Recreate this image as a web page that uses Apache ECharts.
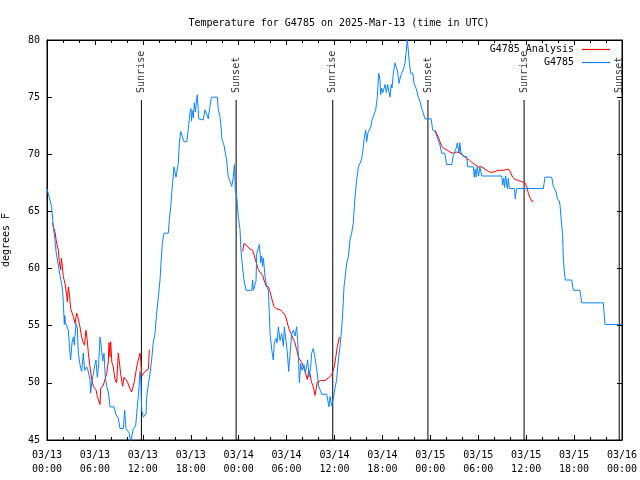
<!DOCTYPE html>
<html>
<head>
<meta charset="utf-8">
<script src="https://cdn.jsdelivr.net/npm/echarts@6/dist/echarts.min.js"></script>
<style>html,body{margin:0;padding:0;background:#fff}#c{width:640px;height:480px}</style>
</head>
<body>
<div id="c"></div>
<script>
// x values are hours since 2025-03-13 00:00 UTC
const xTickLabels = ['03/13\n00:00','03/13\n06:00','03/13\n12:00','03/13\n18:00','03/14\n00:00','03/14\n06:00','03/14\n12:00','03/14\n18:00','03/15\n00:00','03/15\n06:00','03/15\n12:00','03/15\n18:00','03/16\n00:00'];

const obsHours = [0.0,0.58,0.79,1.0,1.13,1.25,1.4,1.63,1.84,1.96,2.04,2.17,2.23,2.3,2.67,2.88,2.96,3.13,3.3,3.42,3.63,3.8,3.92,4.13,4.34,4.55,4.72,4.97,5.1,5.38,5.47,5.6,5.68,6.0,6.13,6.3,6.47,6.64,6.76,6.97,7.14,7.3,7.47,7.68,7.89,8.39,8.64,8.93,9.14,9.55,9.73,9.88,10.1,10.31,10.48,10.7,10.81,11.1,11.23,11.43,11.52,11.65,11.75,11.86,12.06,12.23,12.4,12.5,12.69,12.9,13.1,13.3,13.52,13.73,13.94,14.15,14.28,14.44,14.65,15.19,15.32,15.49,15.61,15.74,15.9,16.05,16.15,16.35,16.44,16.57,16.74,16.95,17.15,17.5,17.61,17.74,17.9,18.03,18.1,18.2,18.33,18.45,18.58,18.74,18.82,19.0,19.57,19.78,19.95,20.2,20.3,20.41,20.58,21.33,21.45,21.66,21.79,21.91,22.16,22.33,22.5,22.58,22.71,22.95,23.13,23.33,23.46,23.58,23.75,23.96,24.17,24.29,24.46,24.67,24.92,25.63,25.75,25.85,26.1,26.17,26.26,26.47,26.6,26.76,26.88,27.0,27.1,27.3,27.51,27.72,27.84,27.93,28.14,28.34,28.46,28.68,28.8,28.97,29.18,29.39,29.6,29.72,29.9,30.1,30.26,30.5,30.64,30.85,31.05,31.15,31.26,31.38,31.51,31.6,31.76,31.93,32.18,32.35,32.5,32.64,32.81,33.02,33.14,33.35,33.56,33.85,34.02,34.19,34.4,35.02,35.15,35.31,35.44,35.65,35.85,36.06,36.27,36.48,36.69,36.9,37.03,37.19,37.36,37.53,37.73,37.94,38.15,38.36,38.48,38.61,38.78,38.99,39.19,39.41,39.61,39.74,39.91,40.03,40.2,40.35,40.53,40.7,40.95,41.16,41.36,41.53,41.7,41.78,41.9,42.05,42.33,42.5,42.65,42.95,43.1,43.2,43.37,43.58,43.75,43.91,44.08,44.2,44.41,44.62,44.83,44.95,45.12,45.24,45.37,45.54,45.8,45.96,46.2,46.5,46.71,46.92,47.12,47.33,48.1,48.3,48.6,48.85,49.0,49.21,49.42,49.8,50.05,50.68,50.88,51.22,51.38,51.55,51.6,51.7,51.82,51.96,52.13,52.55,52.68,53.38,53.5,53.62,53.75,53.87,54.05,54.2,54.43,56.94,57.06,57.2,57.3,57.43,57.64,57.76,57.9,58.51,58.64,58.8,62.15,62.36,63.2,63.4,63.74,63.91,64.15,64.25,64.36,64.57,64.65,64.78,64.9,65.7,65.9,66.74,66.95,69.66,69.87,72.0];
const obsTemps = [67.0,65.4,63.7,62.5,61.5,61.0,61.0,59.4,58.6,58.0,57.1,55.1,55.9,55.3,54.6,52.6,52.0,53.5,54.0,53.3,55.2,54.8,52.6,51.6,51.0,52.6,51.1,51.4,51.2,50.3,49.1,50.0,50.0,51.6,52.0,50.5,51.6,54.0,53.4,51.9,52.6,50.5,49.7,49.2,47.9,47.9,47.2,46.9,46.0,46.0,47.6,46.0,46.0,45.6,44.8,44.8,46.0,46.2,47.3,48.8,49.7,51.0,50.3,47.6,47.0,47.0,47.3,48.9,49.0,50.8,52.0,53.5,54.3,56.1,57.5,59.0,60.5,62.2,63.1,63.1,64.3,65.4,66.6,67.5,68.9,69.0,68.0,68.0,69.2,71.0,72.0,72.0,71.1,71.1,71.7,72.6,73.6,74.0,72.9,73.8,73.2,74.5,73.7,74.9,75.2,73.1,73.0,73.9,74.0,73.1,73.7,74.2,75.0,75.0,73.9,73.3,72.4,71.3,70.8,70.1,69.5,68.8,68.0,68.0,67.2,68.0,69.1,66.9,66.3,64.5,63.4,61.6,60.3,59.0,58.1,58.1,59.0,58.1,58.1,58.9,61.3,61.8,62.1,60.5,61.1,60.2,60.9,59.3,58.4,58.1,56.1,54.3,52.9,52.0,53.5,53.9,53.5,54.9,53.7,54.3,53.2,54.9,54.9,52.6,51.0,51.0,54.3,54.6,54.1,54.0,54.9,53.8,51.7,50.0,51.7,51.1,51.6,50.9,51.4,52.0,50.5,51.4,52.6,53.0,52.2,50.8,49.7,49.4,49.0,49.0,48.5,47.9,48.8,48.0,48.6,49.5,50.3,52.0,53.2,54.8,56.2,58.4,59.4,60.5,61.0,62.5,63.1,64.0,65.4,66.6,67.8,68.9,69.2,69.6,70.7,71.5,72.1,71.1,71.9,72.1,72.4,73.0,73.1,73.9,75.0,77.1,76.5,75.2,75.8,75.4,76.1,75.4,76.1,75.0,76.1,75.8,77.1,78.0,78.0,77.2,76.2,76.6,77.1,77.4,78.0,78.8,80.0,79.1,78.0,77.1,77.1,76.2,75.8,75.0,74.6,74.0,73.6,73.1,73.1,72.1,72.0,71.5,71.5,70.8,70.1,70.1,69.1,69.1,69.9,70.5,71.0,71.0,70.1,71.0,70.2,70.1,69.8,69.8,68.9,68.9,68.0,68.7,68.0,68.9,68.1,68.9,68.1,68.1,67.3,67.9,67.1,68.1,67.0,67.9,67.0,67.0,66.1,67.0,67.0,68.0,68.0,67.2,66.7,66.1,65.9,65.5,64.5,62.9,61.0,59.7,59.0,59.0,58.1,58.1,57.0,57.0,55.1,55.1];

const anaHours = [0.66,0.72,1.0,1.21,1.42,1.54,1.71,1.8,1.92,2.04,2.25,2.46,2.55,2.67,2.8,2.96,3.3,3.51,3.71,3.85,4.13,4.34,4.55,4.7,4.88,5.0,5.18,5.38,5.59,5.8,6.13,6.3,6.64,6.72,7.05,7.26,7.47,7.68,7.76,7.88,7.97,8.12,8.3,8.51,8.72,8.93,9.05,9.22,9.47,9.64,9.8,10.06,10.39,10.6,10.81,10.94,11.23,11.43,11.65,11.75,11.86,12.27,12.69,12.82,
  18.0,
  24.5,24.67,25.0,25.42,25.76,25.92,26.17,26.46,26.67,27.01,27.17,27.42,27.72,27.92,28.13,28.42,28.68,29.18,29.51,29.84,30.01,30.22,30.43,30.64,30.84,31.05,31.26,31.47,31.68,31.89,32.1,32.3,32.43,32.6,32.77,32.93,33.1,33.27,33.43,33.56,33.77,33.85,34.27,34.81,35.02,35.35,35.65,35.85,35.98,36.19,36.36,36.61,
  42.0,
  48.6,49.0,49.21,49.42,49.71,50.04,50.46,50.88,51.3,51.72,52.13,52.55,52.88,53.18,53.59,54.01,54.43,54.85,55.26,55.68,56.1,56.51,57.14,57.77,57.98,58.31,58.6,59.02,59.44,59.85,60.06,60.27,60.48,60.69,60.94];
const anaTemps = [64.0,64.1,63.2,62.2,61.6,60.6,59.9,60.9,60.2,59.3,58.7,57.7,57.1,58.4,57.8,56.5,55.8,55.2,56.1,55.8,54.9,54.0,53.5,53.3,54.6,54.0,52.6,51.4,50.3,49.7,49.4,48.8,48.1,49.5,49.8,50.3,50.8,51.9,53.5,52.3,53.6,51.8,51.4,50.3,50.0,52.6,51.9,50.8,49.7,50.5,50.6,50.1,49.5,49.2,49.2,50.1,51.4,52.0,52.6,51.9,50.6,51.0,51.2,52.9,
  null,
  61.5,62.2,62.0,61.7,61.6,61.2,60.6,59.9,59.7,59.4,59.0,58.5,58.4,58.0,57.4,56.7,56.5,56.4,56.2,55.9,55.5,54.9,54.5,54.2,53.8,53.5,52.9,52.3,52.0,51.8,51.4,51.0,50.7,50.3,51.1,50.8,50.1,49.8,49.4,48.9,48.8,50.1,50.2,50.2,50.1,50.5,50.7,50.7,51.4,52.4,53.2,54.0,
  null,
  72.1,71.5,71.1,70.7,70.5,70.4,70.2,70.1,70.2,70.1,69.9,69.6,69.5,69.3,69.1,68.9,68.9,68.7,68.5,68.4,68.5,68.6,68.6,68.7,68.5,68.0,67.8,67.7,67.6,67.5,67.2,66.6,66.2,65.9,65.9];

const sunHours = [11.82, 23.68, 35.78, 47.7, 59.74, 71.65];
const sunNames = ['Sunrise', 'Sunset', 'Sunrise', 'Sunset', 'Sunrise', 'Sunset'];
const sunLineTop = 74.75;

const FONT = 'DejaVu Sans Mono';
const zip = (xs, ys) => xs.map((x, i) => [x, ys[i] === null ? '-' : ys[i]]);

const series = [];
series.push({
  name: 'G4785 Analysis', type: 'line', data: zip(anaHours, anaTemps),
  showSymbol: false, symbol: 'none', connectNulls: false,
  lineStyle: { color: '#ff0000', width: 1 }, itemStyle: { color: '#ff0000' }, z: 3
});
series.push({
  name: 'G4785', type: 'line', data: zip(obsHours, obsTemps),
  showSymbol: false, symbol: 'none',
  lineStyle: { color: '#0a84ff', width: 1 }, itemStyle: { color: '#0a84ff' }, z: 4
});
sunHours.forEach((h, i) => {
  series.push({
    type: 'line', data: [[h, 45], [h, sunLineTop]], showSymbol: false, symbol: 'none',
    lineStyle: { color: '#000', width: 1 }, z: 2, silent: true
  });
});
series.push({
  type: 'scatter', symbolSize: 0.1, itemStyle: { color: 'transparent' }, silent: true,
  data: sunHours.map((h, i) => ({ value: [h, sunLineTop], name: sunNames[i] })),
  label: {
    show: true, formatter: '{b}', position: 'top', distance: 7, rotate: 90,
    align: 'left', verticalAlign: 'middle', fontFamily: FONT, fontSize: 10, color: '#000'
  }, z: 5
});

const xCommon = {
  type: 'value', min: 0, max: 72, interval: 6,
  axisLine: { show: true, onZero: false, lineStyle: { color: '#000', width: 1 } },
  axisTick: { show: true, inside: true, length: 5, lineStyle: { color: '#000' } },
  minorTick: { show: true, splitNumber: 3, length: 3, lineStyle: { color: '#000' } },
  splitLine: { show: false }, minorSplitLine: { show: false }
};
const yCommon = {
  type: 'value', min: 45, max: 80, interval: 5,
  axisLine: { show: true, onZero: false, lineStyle: { color: '#000', width: 1 } },
  axisTick: { show: true, inside: true, length: 5, lineStyle: { color: '#000' } },
  splitLine: { show: false }
};

const chart = echarts.init(document.getElementById('c'), null, { renderer: 'canvas' });
chart.setOption({
  animation: false,
  backgroundColor: '#fff',
  title: {
    text: 'Temperature for G4785 on 2025-Mar-13 (time in UTC)',
    left: 334, top: 13, textAlign: 'center',
    textStyle: { fontFamily: FONT, fontSize: 10, fontWeight: 'normal', color: '#000' }
  },
  legend: {
    data: ['G4785 Analysis', 'G4785'], orient: 'vertical', right: 30, top: 43,
    align: 'right', padding: 0, itemGap: 0, itemWidth: 28, itemHeight: 1.2, icon: 'rect',
    textStyle: { fontFamily: FONT, fontSize: 10, color: '#000', lineHeight: 13, padding: [0, 3, 0, 0] }
  },
  grid: { left: 47, right: 18, top: 40, bottom: 40, containLabel: false, outerBoundsMode: 'none',
          show: true, borderColor: '#000', borderWidth: 1, backgroundColor: 'transparent' },
  xAxis: [
    Object.assign({}, xCommon, {
      position: 'bottom',
      axisLabel: {
        fontFamily: FONT, fontSize: 10, color: '#000', margin: 8, lineHeight: 14,
        formatter: v => xTickLabels[Math.round(v / 6)]
      }
    }),
    Object.assign({}, xCommon, { position: 'top', axisLabel: { show: false } })
  ],
  yAxis: [
    Object.assign({}, yCommon, {
      position: 'left',
      name: 'degrees F', nameLocation: 'middle', nameGap: 36, nameRotate: 90,
      nameTextStyle: { fontFamily: FONT, fontSize: 10, color: '#000' },
      axisLabel: { fontFamily: FONT, fontSize: 10, color: '#000', margin: 7 }
    }),
    Object.assign({}, yCommon, { position: 'right', axisLabel: { show: false } })
  ],
  series: series
});
</script>
</body>
</html>
